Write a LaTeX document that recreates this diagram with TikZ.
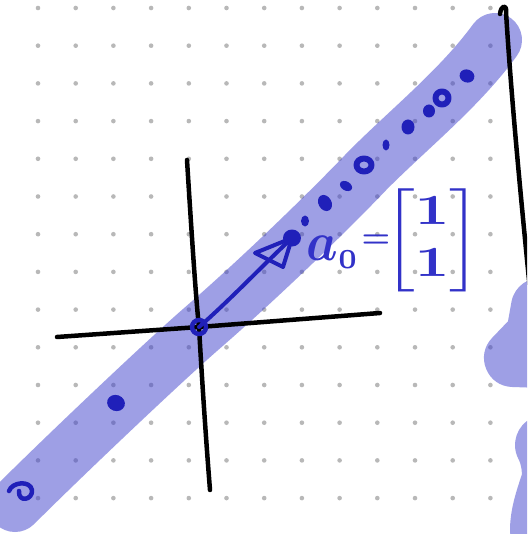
\documentclass[tikz,border=0pt]{standalone}
\usepackage{amsmath}
\usepackage{bm}
\definecolor{bandblue}{RGB}{62,64,205}
\definecolor{penblue}{RGB}{32,32,185}
\definecolor{labelblue}{RGB}{50,50,200}
\tikzset{
  griddot/.style={fill=black!28, draw=none},
  band/.style={draw=bandblue, draw opacity=0.5, line width=54pt, line cap=round, line join=round},
  ink/.style={draw=black, line width=4.5pt, line cap=round, line join=round},
  pen/.style={draw=penblue, line width=4pt, line cap=round, line join=round},
  blob/.style={fill=penblue, draw=none},
  lbl/.style={text=labelblue, inner sep=0pt},
}
\begin{document}
\begin{tikzpicture}[x=1pt,y=-1pt]
\useasboundingbox (0,0) rectangle (527,534);
\clip (0,0) rectangle (527,534);
\fill[white] (0,0) rectangle (527,534);
% dot grid
\foreach \i in {0,...,12}{
  \foreach \j in {0,...,13}{
    \fill[griddot] ({38+37.7*\i},{8+37.7*\j}) circle (2.3pt);
  }
}
% highlighter band
\draw[band] (15,505) .. controls (60,460) and (160,365) .. (200,330)
  .. controls (260,278) and (330,210) .. (368,170)
  .. controls (410,128) and (460,88) .. (495,40);
% right edge blobs
\draw[band, line width=58pt] (540,307) -- (535,335) -- (513,358) -- (570,360);
\draw[band, line width=60pt] (545,445) .. controls (553,460) and (553,480) .. (550,485) .. controls (545,500) and (540,515) .. (540,530);
% axes
\coordinate (xl) at (57,337);
\coordinate (xr) at (380,313);
\coordinate (yt) at (187,160);
\coordinate (yb) at (210,490);
\coordinate (o) at (199,327);
\draw[ink] (xl) -- (o) -- (xr);
\draw[ink] (yt) .. controls (192,240) and (196,300) .. (o) .. controls (202,380) and (206,440) .. (yb);
% right black line
\coordinate (rt) at (506,12);
\coordinate (rb) at (534,330);
\draw[ink] (500,14) .. controls (501,5) and (507,4) .. (rt) .. controls (512,110) and (524,230) .. (rb);
% arrow a0
\coordinate (tip) at (292,238);
\draw[pen] (o) .. controls (230,300) and (262,266) .. (tip);
\draw[pen] (tip) -- (255,253) -- (283,267) -- cycle;
\fill[blob] (tip) ellipse (9pt and 8.5pt);
\draw[pen, line width=4.5pt] (o) circle (7pt);
% dots along the line
\draw[pen, line width=4.5pt] (9,491) .. controls (12,482) and (30,480) .. (32,490) .. controls (33,500) and (18,503) .. (19,491);
\fill[blob, rotate around={-20:(116,403)}] (116,403) ellipse (9pt and 8pt);
\fill[blob] (305,221) ellipse (4pt and 5.5pt);
\fill[blob, rotate around={30:(325,203)}] (325,203) ellipse (6.5pt and 8.5pt);
\fill[blob, rotate around={-30:(346,186)}] (346,186) ellipse (6.5pt and 4.5pt);
\draw[pen, line width=6pt] (364,165) ellipse (7.5pt and 6.5pt);
\fill[blob] (386,145) ellipse (3.5pt and 5.5pt);
\fill[blob] (408,127) ellipse (6.5pt and 7.5pt);
\fill[blob] (429,111) ellipse (6pt and 6.5pt);
\draw[pen, line width=6pt] (442,98) ellipse (6.5pt and 6.5pt);
\fill[blob, rotate around={-20:(467,76)}] (467,76) ellipse (7.5pt and 6.5pt);
% label
\node[lbl] (lbla) at (333,252) {\scalebox{5}[5.5]{$\bm{a}_{\scriptscriptstyle\bm{0}}$}};
\node[lbl] (lbleq) at (376,241) {\scalebox{3.2}{$\bm{=}$}};
\node[lbl] (lblm) at (432,240) {\scalebox{6}[4.3]{$\left[\begin{matrix}\bm{1}\\\bm{1}\end{matrix}\right]$}};
\end{tikzpicture}
\end{document}
